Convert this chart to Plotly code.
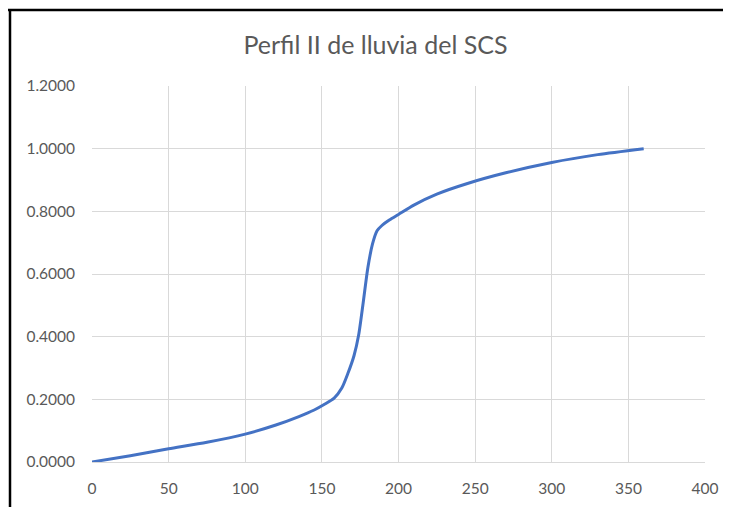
import plotly.graph_objects as go

# Data
tiempo = [0, 25, 50, 75, 100, 120, 135, 145, 152, 158, 163, 167, 171, 174, 177,
          180, 183, 186, 189, 194, 200, 210, 225, 245, 270, 300, 330, 360]
fraccion = [0.000, 0.020, 0.042, 0.063, 0.089, 0.118, 0.145, 0.166, 0.185, 0.204,
            0.236, 0.283, 0.340, 0.405, 0.510, 0.620, 0.695, 0.738, 0.754, 0.772,
            0.790, 0.820, 0.855, 0.889, 0.923, 0.956, 0.981, 1.000]

x_ticks = [0, 50, 100, 150, 200, 250, 300, 350, 400]
y_ticks = [0.0, 0.2, 0.4, 0.6, 0.8, 1.0, 1.2]
title_text = "Perfil II de lluvia del SCS"

W, H = 731, 507
OFF = 8  # page body margin offset
ml, mr, mt, mb = 92 - OFF, 26 + OFF, 86 - OFF, 45 + OFF
pw, ph = W - ml - mr, H - mt - mb

def px_x(px):
    return (px - OFF - ml) / pw

def px_y(py):
    return (H - mb - (py - OFF)) / ph

fig = go.Figure()
fig.add_trace(go.Scatter(
    x=tiempo, y=fraccion, mode="lines",
    line=dict(color="#4472C4", width=3, shape="spline", smoothing=0.7),
    hoverinfo="skip", showlegend=False,
))

font_fam = "Lato, 'Open Sans', sans-serif"
fig.update_layout(
    width=W, height=H,
    margin=dict(l=ml, r=mr, t=mt, b=mb),
    paper_bgcolor="white", plot_bgcolor="white",
    title=dict(text=title_text, x=(375.5 - OFF) / W, xanchor="center",
               y=1 - (45 - OFF) / H, yanchor="middle",
               font=dict(family=font_fam, size=25, color="#595959")),
    xaxis=dict(range=[0, 400], tickvals=x_ticks, ticktext=[str(v) for v in x_ticks],
               showgrid=True, gridcolor="#d9d9d9", gridwidth=1,
               showline=True, linecolor="#d9d9d9", linewidth=1, mirror=False,
               zeroline=False, ticks="", ticklabelstandoff=12,
               tickfont=dict(family=font_fam, size=15.5, color="#595959")),
    yaxis=dict(range=[0, 1.2], tickvals=y_ticks, tickformat=".4f",
               showgrid=True, gridcolor="#d9d9d9", gridwidth=1,
               showline=False, zeroline=False, ticks="", ticklabelstandoff=16,
               tickfont=dict(family=font_fam, size=15.5, color="#595959")),
    shapes=[
        dict(type="line", xref="paper", yref="paper",
             x0=px_x(7), x1=px_x(W + 2), y0=px_y(10), y1=px_y(10),
             line=dict(color="black", width=2.5)),
        dict(type="line", xref="paper", yref="paper",
             x0=px_x(10), x1=px_x(10), y0=px_y(9), y1=px_y(H + 2),
             line=dict(color="black", width=2.5)),
    ],
)

fig.write_html("out.html")
